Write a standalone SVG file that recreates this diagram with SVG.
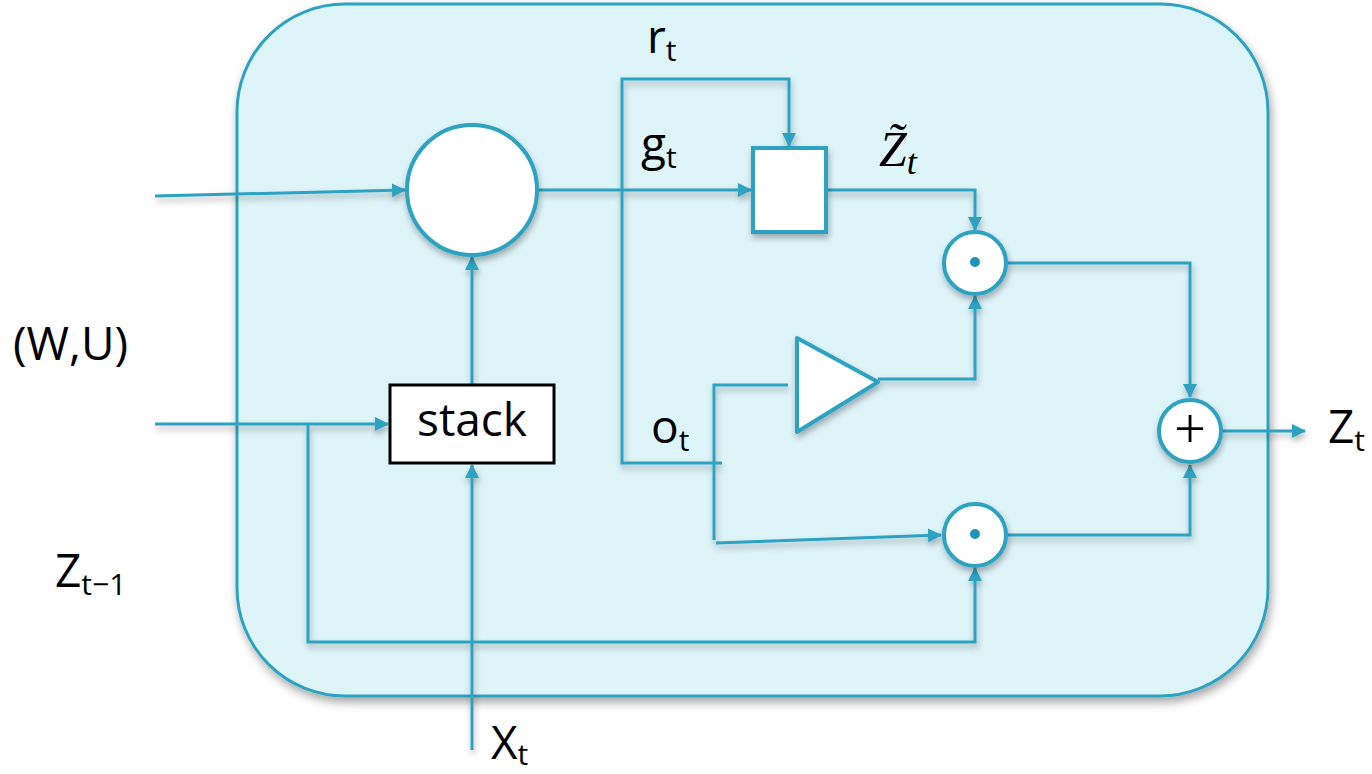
<svg xmlns="http://www.w3.org/2000/svg" width="1372" height="774" viewBox="0 0 1372 774">
  <defs>
    <style>
      .wire { fill: none; stroke: #2ea3c1; stroke-width: 3; stroke-linejoin: miter; }
      .node { fill: #ffffff; stroke: #2ea3c1; stroke-width: 4; }
      .label { font-family: "Open Sans", "Noto Sans", "Liberation Sans", sans-serif; font-size: 46px; fill: #000000; }
      .sub { font-size: 30px; }
      .math { font-family: "Liberation Serif", "DejaVu Serif", serif; font-style: italic; font-size: 50px; fill: #000000; }
    </style>
    <marker id="arrow" viewBox="0 0 14 14" refX="13" refY="7" markerWidth="14" markerHeight="14" markerUnits="userSpaceOnUse" orient="auto">
      <path d="M0,0 L14,7 L0,14 z" fill="#2ea3c1"/>
    </marker>
    <filter id="boxShadow" x="-10%" y="-10%" width="120%" height="125%">
      <feDropShadow dx="2" dy="5" stdDeviation="5" flood-color="#000000" flood-opacity="0.35"/>
    </filter>
    <filter id="softShadow" x="-20%" y="-20%" width="140%" height="150%">
      <feDropShadow dx="1" dy="4" stdDeviation="3" flood-color="#000000" flood-opacity="0.3"/>
    </filter>
  </defs>

  <!-- cell container -->
  <g id="cell">
    <rect x="237" y="4" width="1031" height="692" rx="108" ry="108" fill="#ddf4f9" stroke="#2ea3c1" stroke-width="3" filter="url(#boxShadow)"/>
  </g>

  <!-- connectors -->
  <g id="connectors" filter="url(#softShadow)">
    <!-- (W,U) input into the gate circle -->
    <path class="wire" d="M155,196 L405,190" marker-end="url(#arrow)"/>
    <!-- gate circle to candidate box (g_t) -->
    <path class="wire" d="M537,190 L751,190" marker-end="url(#arrow)"/>
    <!-- r_t branch into the top of the candidate box -->
    <path class="wire" d="M622,190 L622,79 L789,79 L789,146" marker-end="url(#arrow)"/>
    <!-- o_t branch -->
    <path class="wire" d="M622,190 L622,463 L722,463"/>
    <!-- candidate box to upper product -->
    <path class="wire" d="M826,190 L975,190 L975,230" marker-end="url(#arrow)"/>
    <!-- o_t split: into triangle and lower product -->
    <path class="wire" d="M788,385 L714,385 L714,540"/>
    <path class="wire" d="M716,543 L941,535" marker-end="url(#arrow)"/>
    <!-- triangle output to upper product -->
    <path class="wire" d="M878,379 L975,379 L975,296" marker-end="url(#arrow)"/>
    <!-- products into the sum -->
    <path class="wire" d="M1006,263 L1190,263 L1190,397" marker-end="url(#arrow)"/>
    <path class="wire" d="M1006,535 L1190,535 L1190,465" marker-end="url(#arrow)"/>
    <!-- sum output Z_t -->
    <path class="wire" d="M1222,431 L1305,431" marker-end="url(#arrow)"/>
    <!-- Z_{t-1} input into stack and the lower product -->
    <path class="wire" d="M155,424 L388,424" marker-end="url(#arrow)"/>
    <path class="wire" d="M308,424 L308,642 L975,642 L975,568" marker-end="url(#arrow)"/>
    <!-- stack to gate circle -->
    <path class="wire" d="M472,385 L472,257" marker-end="url(#arrow)"/>
    <!-- X_t input into stack -->
    <path class="wire" d="M472,750 L472,465" marker-end="url(#arrow)"/>
  </g>

  <!-- gate circle -->
  <g id="gate" filter="url(#softShadow)">
    <circle class="node" cx="472" cy="190" r="65"/>
  </g>

  <!-- candidate box -->
  <g id="candidate" filter="url(#softShadow)">
    <rect class="node" x="753" y="148" width="73" height="84"/>
  </g>

  <!-- stack box -->
  <g id="stack">
    <rect x="390" y="385" width="164" height="78" fill="#ffffff" stroke="#000000" stroke-width="3"/>
    <text class="label" x="472" y="436" text-anchor="middle">stack</text>
  </g>

  <!-- amplifier triangle -->
  <g id="amplifier" filter="url(#softShadow)">
    <polygon class="node" points="797,338 878,382 797,432" stroke-linejoin="round"/>
  </g>

  <!-- upper product -->
  <g id="product-upper" filter="url(#softShadow)">
    <circle class="node" cx="975" cy="263" r="31"/>
    <circle cx="975" cy="262" r="5" fill="#1a95bb"/>
  </g>

  <!-- lower product -->
  <g id="product-lower" filter="url(#softShadow)">
    <circle class="node" cx="975" cy="535" r="31"/>
    <circle cx="975" cy="534" r="5" fill="#1a95bb"/>
  </g>

  <!-- sum -->
  <g id="sum" filter="url(#softShadow)">
    <circle class="node" cx="1190" cy="431" r="31"/>
    <text x="1190" y="448" text-anchor="middle" font-family="Liberation Serif, serif" font-size="56" fill="#000000">+</text>
  </g>

  <!-- labels -->
  <g id="labels">
    <text class="label" x="13" y="360">(W,U)</text>
    <text class="label" x="55" y="587">Z<tspan class="sub" dy="8">t−1</tspan></text>
    <text class="label" x="491" y="759">X<tspan class="sub" dy="6">t</tspan></text>
    <text class="label" x="1328" y="443">Z<tspan class="sub" dy="8">t</tspan></text>
    <text class="label" x="647" y="53">r<tspan class="sub" dy="8">t</tspan></text>
    <text class="label" x="641" y="160">g<tspan class="sub" dy="8">t</tspan></text>
    <text class="label" x="651" y="443">o<tspan class="sub" dy="8">t</tspan></text>
    <text class="math" x="879" y="166">Z&#x303;<tspan font-size="36" dy="8">t</tspan></text>
  </g>
</svg>
